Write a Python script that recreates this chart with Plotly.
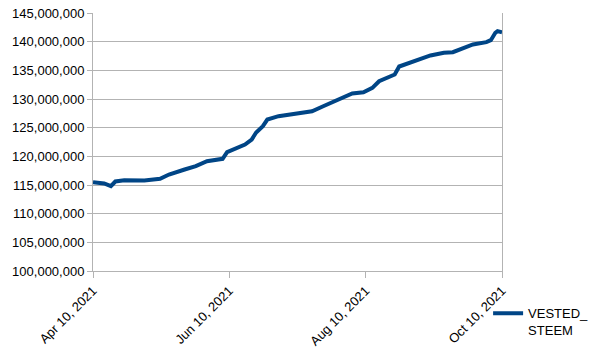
import plotly.graph_objects as go

dates = [
    "2021-04-10", "2021-04-13", "2021-04-15", "2021-04-18", "2021-04-20", "2021-04-24",
    "2021-05-03", "2021-05-10", "2021-05-14", "2021-05-21", "2021-05-26", "2021-05-31",
    "2021-06-07", "2021-06-09", "2021-06-14", "2021-06-17", "2021-06-20", "2021-06-22",
    "2021-06-25", "2021-06-27", "2021-07-02", "2021-07-08", "2021-07-14", "2021-07-17",
    "2021-07-22", "2021-07-26", "2021-07-31", "2021-08-04", "2021-08-09", "2021-08-13",
    "2021-08-16", "2021-08-20", "2021-08-23", "2021-08-25", "2021-08-30", "2021-09-03",
    "2021-09-08", "2021-09-14", "2021-09-18", "2021-09-23", "2021-09-27", "2021-10-03",
    "2021-10-05", "2021-10-07", "2021-10-08", "2021-10-10",
]
vested_steem = [
    115.49, 115.26, 115.26, 114.79, 115.61, 115.83,
    115.78, 116.08, 116.83, 117.70, 118.28, 119.15,
    119.57, 120.72, 121.54, 122.06, 122.93, 124.16,
    125.25, 126.42, 127.00, 127.30, 127.59, 127.87,
    128.74, 129.44, 130.38, 130.96, 131.19, 131.95,
    133.10, 133.70, 134.27, 135.67, 136.37, 137.01,
    137.59, 138.06, 138.16, 138.93, 139.51, 139.91,
    140.26, 141.55, 141.83, 141.65,
]
vested_steem = [v * 1e6 for v in vested_steem]

x_ticks = ["2021-04-10", "2021-06-10", "2021-08-10", "2021-10-10"]
y_ticks = [100e6 + 5e6 * i for i in range(10)]

grid = "#b3b3b3"
fig = go.Figure()
fig.add_trace(go.Scatter(
    x=dates, y=vested_steem, mode="lines", name="VESTED_<br>STEEM",
    line=dict(color="#004586", width=4),
))
fig.update_layout(
    width=604, height=354,
    margin=dict(l=93, r=102, t=13, b=83, autoexpand=False),
    paper_bgcolor="white", plot_bgcolor="white",
    font=dict(family="Liberation Sans, Arial, sans-serif", size=13, color="#000000"),
    showlegend=True,
    legend=dict(x=0.966, y=-0.106, xanchor="left", yanchor="top", valign="top",
                font=dict(size=13), bgcolor="rgba(0,0,0,0)", itemwidth=30),
)
fig.update_xaxes(
    range=["2021-04-10", "2021-10-10"], tickvals=x_ticks, tickformat="%b %d, %Y",
    tickangle=-45, showgrid=False, zeroline=False,
    ticks="outside", ticklen=6, tickcolor=grid, showline=True, linecolor=grid,
)
fig.update_yaxes(
    range=[100e6, 145e6], tickvals=y_ticks, tickformat=",d",
    showgrid=True, gridcolor=grid, gridwidth=1, zeroline=False,
    ticks="outside", ticklen=5, tickcolor=grid, showline=True, linecolor=grid, mirror=True,
)
fig.write_html("out.html")
